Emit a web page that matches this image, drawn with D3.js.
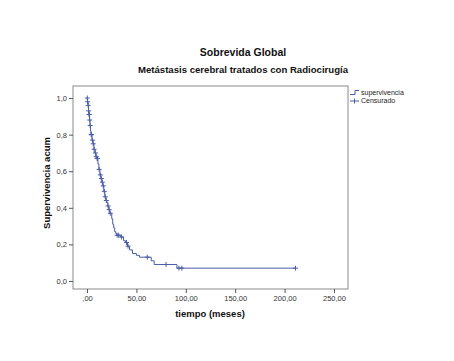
<!DOCTYPE html>
<html>
<head>
<meta charset="utf-8">
<script src="https://cdn.jsdelivr.net/npm/d3@7"></script>
<style>
body { margin: 0; background: #fff; }
svg text { font-family: "Liberation Sans", Arial, sans-serif; }
</style>
</head>
<body>
<div id="chart"></div>
<script>
// Kaplan-Meier steps (tiempo en meses, supervivencia acumulada)
const stepTimes = [0, 0.5, 1, 1.5, 2, 2.5, 3, 3.5, 4, 5, 6, 7, 8, 9, 10, 11, 12, 13, 14, 15, 16, 17, 18, 19, 20, 21, 22, 23, 25, 26, 27, 28, 29, 30, 34, 37, 39, 41, 43, 46, 50, 53, 65, 68, 91];
const stepSurv  = [1.0, 0.98, 0.96, 0.93, 0.91, 0.88, 0.85, 0.82, 0.80, 0.77, 0.75, 0.72, 0.70, 0.68, 0.67, 0.64, 0.61, 0.58, 0.56, 0.54, 0.52, 0.49, 0.46, 0.44, 0.43, 0.41, 0.39, 0.37, 0.34, 0.31, 0.29, 0.27, 0.26, 0.25, 0.24, 0.22, 0.21, 0.19, 0.17, 0.15, 0.14, 0.13, 0.11, 0.09, 0.07];
const lastTime = 211;
// censored cases
const censorTimes = [0.3, 0.6, 1.2, 1.6, 2.1, 2.3, 2.7, 3.2, 4.2, 4.6, 5.5, 6.3, 7.2, 8.5, 9.3, 10.2, 10.6, 12.3, 13.5, 14.5, 15.5, 16.4, 17.5, 18.5, 19.5, 21.3, 22.4, 23.5, 30.5, 32, 35, 40, 41.5, 61, 80, 93, 96, 211];

const yTicks = [0, 0.2, 0.4, 0.6, 0.8, 1.0];
const xTicks = [0, 50, 100, 150, 200, 250];
const legendLabels = ['supervivencia', 'Censurado'];

const width = 454, height = 361;
const frame = {left: 73, top: 86, right: 348, bottom: 289};
const blue = '#4a5ea6';

const svg = d3.select('#chart').append('svg').attr('width', width).attr('height', height);

const x = d3.scaleLinear().domain([-14.2, 264.2]).range([frame.left, frame.right]);
const y = d3.scaleLinear().domain([-0.044, 1.066]).range([frame.bottom, frame.top]);

//titles
svg.append('text').attr('x', 243).attr('y', 56).attr('text-anchor', 'middle')
	.attr('font-size', 10.5).attr('font-weight', 'bold').attr('fill', '#111').text('Sobrevida Global');
svg.append('text').attr('x', 243).attr('y', 73).attr('text-anchor', 'middle')
	.attr('font-size', 9.6).attr('font-weight', 'bold').attr('fill', '#111').text('Metástasis cerebral tratados con Radiocirugía');

//frame
svg.append('rect').attr('x', frame.left).attr('y', frame.top)
	.attr('width', frame.right - frame.left).attr('height', frame.bottom - frame.top)
	.attr('fill', 'none').attr('stroke', '#8a8a8a').attr('stroke-width', 1);

//y axis
const yAxis = svg.append('g').attr('transform', `translate(${frame.left},0)`)
	.call(d3.axisLeft(y).tickValues(yTicks).tickSize(4).tickPadding(2).tickFormat(d => d3.format('.1f')(d).replace('.', ',')));
yAxis.select('.domain').remove();
yAxis.selectAll('line').attr('stroke', '#555');
yAxis.selectAll('text').attr('font-size', 7.5).attr('fill', '#333').attr('font-family', null);

//x axis
const xAxis = svg.append('g').attr('transform', `translate(0,${frame.bottom})`)
	.call(d3.axisBottom(x).tickValues(xTicks).tickSize(4).tickPadding(3).tickFormat(d => d === 0 ? ',00' : d3.format('.2f')(d).replace('.', ',')));
xAxis.select('.domain').remove();
xAxis.selectAll('line').attr('stroke', '#555');
xAxis.selectAll('text').attr('font-size', 7.5).attr('fill', '#333').attr('font-family', null);

//axis labels
svg.append('text').attr('transform', 'translate(50,183) rotate(-90)').attr('text-anchor', 'middle')
	.attr('font-size', 9.5).attr('font-weight', 'bold').attr('fill', '#111').text('Supervivencia acum');
svg.append('text').attr('x', 210).attr('y', 317).attr('text-anchor', 'middle')
	.attr('font-size', 9.5).attr('font-weight', 'bold').attr('fill', '#111').text('tiempo (meses)');

//step curve
const steps = stepTimes.map((t, i) => [t, stepSurv[i]]);
steps.push([lastTime, stepSurv[stepSurv.length - 1]]);
const line = d3.line().x(d => x(d[0])).y(d => y(d[1])).curve(d3.curveStepAfter);
svg.append('path').datum(steps).attr('d', line)
	.attr('fill', 'none').attr('stroke', blue).attr('stroke-width', 1);

//censored marks
const survAt = t => stepSurv[d3.bisectRight(stepTimes, t) - 1];
const marks = svg.append('g').selectAll('g').data(censorTimes).enter().append('g')
	.attr('transform', d => `translate(${x(d)},${y(survAt(d))})`);
marks.append('line').attr('x1', -2.5).attr('x2', 2.5).attr('stroke', blue).attr('stroke-width', 1);
marks.append('line').attr('y1', -2.5).attr('y2', 2.5).attr('stroke', blue).attr('stroke-width', 1);

//legend
const legend = svg.append('g').attr('font-size', 7).attr('fill', '#222')
	.selectAll('g').data(legendLabels).enter().append('g')
	.attr('transform', (d, i) => `translate(350,${93 + i * 8})`);
legend.filter((d, i) => i === 0).append('path')
	.attr('d', 'M0,1.5H5V-2.5H9').attr('fill', 'none').attr('stroke', blue);
legend.filter((d, i) => i === 1).append('path')
	.attr('d', 'M0,0H9M4.5,-2.5V2.5').attr('fill', 'none').attr('stroke', blue);
legend.append('text').attr('x', 11).attr('dy', '0.32em').attr('fill', '#222').text(d => d);
</script>
</body>
</html>
